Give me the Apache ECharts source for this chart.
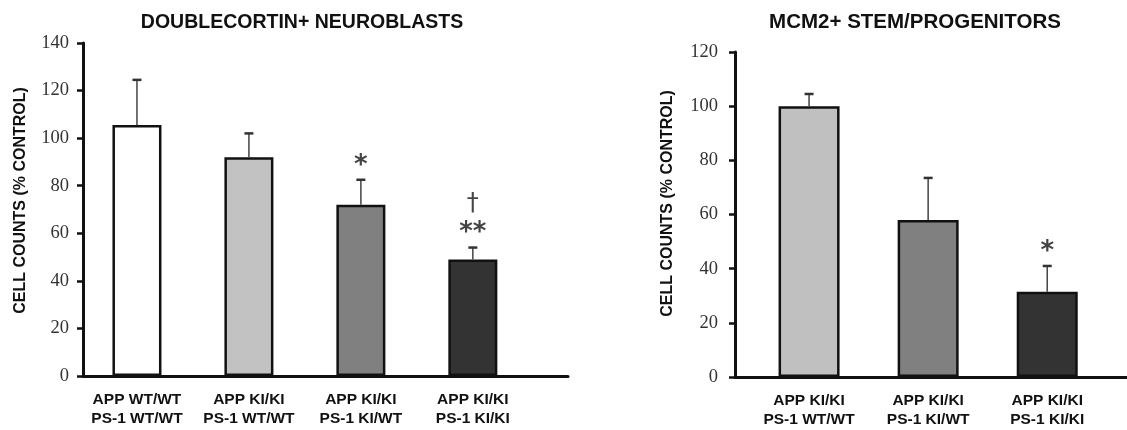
<!DOCTYPE html>
<html>
<head>
<meta charset="utf-8">
<script src="https://cdn.jsdelivr.net/npm/echarts@6/dist/echarts.min.js"></script>
<style>
html,body{margin:0;padding:0;background:#fff;}
#chart{width:1127px;height:430px;}
</style>
</head>
<body>
<div id="chart"></div>
<script>
// ---- data ----
const dcxTitle = 'DOUBLECORTIN+ NEUROBLASTS';
const dcxCategories = ['APP WT/WT\nPS-1 WT/WT', 'APP KI/KI\nPS-1 WT/WT', 'APP KI/KI\nPS-1 KI/WT', 'APP KI/KI\nPS-1 KI/KI'];
const dcxValues = [105.5, 92, 72, 49];
const dcxSEM = [19, 10, 10.5, 5];
const dcxMarks = ['', '', '*', '\u2020\n**'];
const dcxColors = ['#ffffff', '#c2c2c2', '#808080', '#333333'];
const dcxYMax = 140;

const mcmTitle = 'MCM2+ STEM/PROGENITORS';
const mcmCategories = ['APP KI/KI\nPS-1 WT/WT', 'APP KI/KI\nPS-1 KI/WT', 'APP KI/KI\nPS-1 KI/KI'];
const mcmValues = [100, 58, 31.5];
const mcmSEM = [4.5, 15.5, 9.5];
const mcmMarks = ['', '', '*'];
const mcmColors = ['#c0c0c0', '#808080', '#333333'];
const mcmYMax = 120;

const yInterval = 20;
const yAxisName = 'CELL COUNTS (% CONTROL)';

// ---- build ----
const chart = echarts.init(document.getElementById('chart'), null, {renderer: 'canvas'});
const sans = '"Liberation Sans", Arial, sans-serif';
const serif = '"Liberation Serif", "Times New Roman", serif';
const ink = '#111';

function xAxisFor(idx, cats, min, max) {
  return {
    type: 'value', gridIndex: idx, min: min, max: max,
    splitLine: {show: false},
    axisTick: {show: false},
    axisLine: {show: true, onZero: false, lineStyle: {color: ink, width: 3}},
    axisLabel: {
      customValues: cats.map((c, i) => i + 1),
      formatter: v => cats[Math.round(v) - 1] || '',
      color: ink, fontFamily: sans, fontWeight: 'bold', fontSize: 15.5, lineHeight: 19, margin: 14
    }
  };
}
function yAxisFor(idx, max, gap, shift, margin) {
  return {
    type: 'value', gridIndex: idx, min: 0, max: max, interval: yInterval,
    name: yAxisName, nameLocation: 'middle', nameGap: gap,
    nameTextStyle: {color: ink, fontFamily: sans, fontWeight: 'bold', fontSize: 16, padding: [0, 0, 0, shift]},
    splitLine: {show: false},
    axisLine: {show: true, lineStyle: {color: ink, width: 3}},
    axisTick: {show: true, inside: false, length: 6, lineStyle: {color: ink, width: 2.5}},
    axisLabel: {color: '#333', fontFamily: serif, fontSize: 18.5, margin: margin}
  };
}
function barSeries(idx, values, colors, width) {
  return {
    type: 'bar', xAxisIndex: idx, yAxisIndex: idx, barWidth: width,
    data: values.map((v, i) => ({value: [i + 1, v], itemStyle: {color: colors[i]}})),
    itemStyle: {borderColor: ink, borderWidth: 2.5},
    silent: true, z: 2
  };
}
function errSeries(idx, values, sems, marks) {
  return {
    type: 'custom', xAxisIndex: idx, yAxisIndex: idx, z: 3, silent: true,
    data: values.map((v, i) => [i + 1, v, v + sems[i], i]),
    renderItem: function (params, api) {
      const x = api.value(0), m = api.value(1), t = api.value(2), i = api.value(3);
      const p0 = api.coord([x, m]);
      const p1 = api.coord([x, t]);
      const mark = marks[i];
      const children = [
        {type: 'line', shape: {x1: p0[0], y1: p0[1], x2: p1[0], y2: p1[1]}, style: {stroke: '#444', lineWidth: 1.5}},
        {type: 'line', shape: {x1: p1[0] - 4.5, y1: p1[1], x2: p1[0] + 4.5, y2: p1[1]}, style: {stroke: '#333', lineWidth: 2.5}}
      ];
      if (mark) {
        const lines = mark.split('\n').reverse();
        lines.forEach(function (ln, k) {
          const isStar = ln.indexOf('*') >= 0;
          children.push({type: 'text', x: p1[0], y: p1[1] + 1 - k * 30,
            style: {text: ln, fill: '#444',
              font: (isStar ? 'bold 26px "DejaVu Sans", sans-serif' : '24px "DejaVu Sans", sans-serif'),
              align: 'center', verticalAlign: 'bottom', lineHeight: 30}});
        });
      }
      return {type: 'group', children: children};
    }
  };
}

const option = {
  animation: false,
  backgroundColor: '#ffffff',
  title: [
    {text: dcxTitle, left: 297, top: 8, textAlign: 'center', textStyle: {color: ink, fontFamily: sans, fontWeight: 'bold', fontSize: 19.5}},
    {text: mcmTitle, left: 910, top: 7, textAlign: 'center', textStyle: {color: ink, fontFamily: sans, fontWeight: 'bold', fontSize: 20.5}}
  ],
  grid: [
    {left: 83, top: 43, width: 485, height: 333},
    {left: 735, top: 52, width: 392, height: 325}
  ],
  xAxis: [
    xAxisFor(0, dcxCategories, 0.518, 4.85),
    xAxisFor(1, mcmCategories, 0.378, 3.67)
  ],
  yAxis: [
    yAxisFor(0, dcxYMax, 54, 18, 14),
    yAxisFor(1, mcmYMax, 59, 22, 17)
  ],
  series: [
    barSeries(0, dcxValues, dcxColors, 49),
    errSeries(0, dcxValues, dcxSEM, dcxMarks),
    barSeries(1, mcmValues, mcmColors, 61),
    errSeries(1, mcmValues, mcmSEM, mcmMarks)
  ]
};
chart.setOption(option);
</script>
</body>
</html>
